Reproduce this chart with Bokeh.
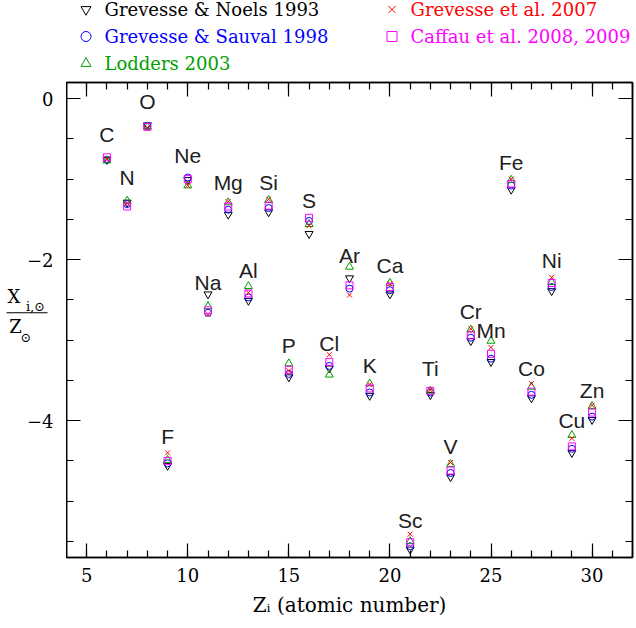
from bokeh.plotting import figure
from bokeh.models import Range1d, LinearAxis, SingleIntervalTicker
from bokeh.layouts import gridplot
from bokeh.embed import file_html
from bokeh.resources import INLINE
from bokeh.core.properties import value

# ---------------- data ----------------
elements = ["C", "N", "O", "F", "Ne", "Na", "Mg", "Al", "Si", "P", "S", "Cl", "Ar",
            "K", "Ca", "Sc", "Ti", "V", "Cr", "Mn", "Fe", "Co", "Ni", "Cu", "Zn"]
atomic_number = [6, 7, 8, 9, 10, 11, 12, 13, 14, 15, 16, 17, 18,
                 19, 20, 21, 22, 23, 24, 25, 26, 27, 28, 29, 30]

gn93 = [-0.76, -1.29, -0.33, -4.56, -1.01, -2.43, -1.44, -2.51, -1.41, -3.46, -1.68, -3.35, -2.23,
        -3.69, -2.43, -5.60, -3.68, -4.70, -3.01, -3.27, -1.13, -3.72, -2.39, -4.40, -3.99]
gs98 = [-0.76, -1.31, -0.34, -4.53, -0.98, -2.66, -1.38, -2.47, -1.36, -3.42, -1.52, -3.32, -2.36,
        -3.65, -2.38, -5.56, -3.65, -4.65, -2.97, -3.23, -1.08, -3.68, -2.34, -4.35, -3.95]
l03 = [-0.77, -1.27, -0.35, -4.49, -1.08, -2.58, -1.29, -2.33, -1.26, -3.29, -1.56, -3.43, -2.09,
       -3.54, -2.29, -5.50, -3.63, -4.54, -2.87, -3.01, -1.01, -3.58, -2.28, -4.18, -3.82]
g07 = [-0.75, -1.30, -0.36, -4.40, -1.08, -2.68, -1.28, -2.41, -1.25, -3.38, -1.58, -3.18, -2.44,
       -3.55, -2.30, -5.41, -3.62, -4.52, -2.86, -3.09, -1.00, -3.54, -2.22, -4.22, -3.81]
c08 = [-0.73, -1.34, -0.35, -4.50, -1.00, -2.63, -1.34, -2.42, -1.33, -3.37, -1.48, -3.27, -2.32,
       -3.60, -2.34, -5.51, -3.63, -4.62, -2.94, -3.17, -1.06, -3.64, -2.29, -4.32, -3.90]

label_y = [-0.44, -0.985, -0.04, -4.20, -0.71, -2.28, -1.04, -2.13, -1.04, -3.07, -1.26, -3.04, -1.95,
           -3.32, -2.07, -5.24, -3.35, -4.32, -2.65, -2.88, -0.79, -3.35, -2.01, -4.00, -3.63]

series_names = ["Grevesse & Noels 1993", "Grevesse & Sauval 1998", "Lodders 2003",
                "Grevesse et al. 2007", "Caffau et al. 2008, 2009"]
series_values = [gn93, gs98, l03, g07, c08]
series_colors = ["#000000", "#0000ff", "#00a000", "#ff0000", "#ff00ff"]
series_markers = ["inverted_triangle", "circle", "triangle", "x", "square"]
series_sizes = [8, 7, 8, 7, 7]

x_ticks_major = 5
y_ticks_major = 2
y_tick_values = [0, -2, -4]
y_tick_labels = ["0", "\u22122", "\u22124"]

SERIF = "DejaVu Serif"
X_RANGE = (4, 32)
Y_RANGE = (-5.7, 0.2)

# ---------------- main plot ----------------
p = figure(width=570, height=550, x_range=Range1d(*X_RANGE), y_range=Range1d(*Y_RANGE),
           output_backend="svg", toolbar_location=None,
           min_border_left=0, min_border_right=4, min_border_top=4, min_border_bottom=71)
p.grid.visible = False
p.outline_line_color = "black"
p.outline_line_width = 1.5

bottom_ax = p.below[0]
left_ax = p.left[0]
bottom_ax.ticker = SingleIntervalTicker(interval=x_ticks_major, num_minor_ticks=5)
left_ax.ticker = SingleIntervalTicker(interval=y_ticks_major, num_minor_ticks=4)
bottom_ax.axis_label = "Z\u1d62 (atomic number)"

top_ax = LinearAxis(ticker=SingleIntervalTicker(interval=x_ticks_major, num_minor_ticks=5))
right_ax = LinearAxis(ticker=SingleIntervalTicker(interval=y_ticks_major, num_minor_ticks=4))
for ax in (top_ax, right_ax, left_ax):
    ax.major_label_text_font_size = "0px"
    ax.major_label_text_alpha = 0
    ax.major_label_standoff = 0
p.add_layout(top_ax, "above")
p.add_layout(right_ax, "right")

for ax in (bottom_ax, left_ax, top_ax, right_ax):
    ax.major_tick_in = 14
    ax.major_tick_out = 0
    ax.minor_tick_in = 7
    ax.minor_tick_out = 0
    ax.axis_line_width = 1.5
    ax.axis_line_color = "black"
    ax.major_tick_line_width = 1.2
    ax.minor_tick_line_width = 1.2
    ax.major_tick_line_color = "black"
    ax.minor_tick_line_color = "black"

bottom_ax.major_label_text_font = SERIF
bottom_ax.major_label_text_font_size = "18px"
bottom_ax.major_label_text_color = "black"
bottom_ax.major_label_standoff = 10
bottom_ax.axis_label_text_font = SERIF
bottom_ax.axis_label_text_font_size = "20px"
bottom_ax.axis_label_text_font_style = "normal"
bottom_ax.axis_label_text_color = "black"
bottom_ax.axis_label_standoff = 8

for vals, col, mk, sz in zip(series_values, series_colors, series_markers, series_sizes):
    p.scatter(atomic_number, vals, marker=mk, size=sz, line_color=col,
              fill_color=None, line_width=1)

p.text(atomic_number, label_y, text=elements, text_align="center", text_baseline="middle",
       text_font=value("Liberation Sans"), text_font_size="21px", text_color="#202020")

# ---------------- left strip: y tick labels and the y-axis fraction label ----------------
# shares the main plot's y scale; its x coordinate is in pixels of the 66 px strip
yfig = figure(width=66, height=550, x_range=Range1d(0, 66), y_range=p.y_range,
              x_axis_type=None, y_axis_type=None, toolbar_location=None,
              output_backend="svg", min_border_left=0, min_border_right=0,
              min_border_top=4, min_border_bottom=71, outline_line_color=None)
yfig.grid.visible = False
yfig.text([53] * len(y_tick_values), y_tick_values, text=y_tick_labels,
          text_align="right", text_baseline="middle", text_font=value(SERIF),
          text_font_size="18px", text_color="black")
yfig.text([13.5, 15], [-2.46, -2.83], text=["X", "Z"], text_align="center",
          text_baseline="middle", text_font=value(SERIF), text_font_size="18px",
          text_color="black")
yfig.text([35, 25.5], [-2.58, -2.97], text=["i,\u2299", "\u2299"], text_align="center",
          text_baseline="middle", text_font=value(SERIF), text_font_size="13px",
          text_color="black")
yfig.segment(x0=[6], y0=[-2.66], x1=[47], y1=[-2.66], line_color="black", line_width=1.2)

# ---------------- legend strip above the main plot ----------------
leg = figure(width=570, height=78, x_range=Range1d(0, 566), y_range=Range1d(78, 0),
             x_axis_type=None, y_axis_type=None, toolbar_location=None,
             output_backend="svg", min_border_left=0, min_border_right=4,
             min_border_top=0, min_border_bottom=0, outline_line_color=None)
leg.grid.visible = False
col_marker_x = [19.5, 325.5]
col_text_x = [38, 344]
row_y = [9, 36, 63]
slots = [(0, 0), (0, 1), (0, 2), (1, 0), (1, 1)]
for (c, r), name, col, mk in zip(slots, series_names, series_colors, series_markers):
    leg.scatter([col_marker_x[c]], [row_y[r]], marker=mk, size=10, line_color=col,
                fill_color=None, line_width=1)
    leg.text([col_text_x[c]], [row_y[r]], text=[name], text_color=col,
             text_font=value(SERIF), text_font_size="18px",
             text_align="left", text_baseline="middle")

grid = gridplot([[None, leg], [yfig, p]], toolbar_location=None)
open("out.html", "w").write(file_html(grid, INLINE))
